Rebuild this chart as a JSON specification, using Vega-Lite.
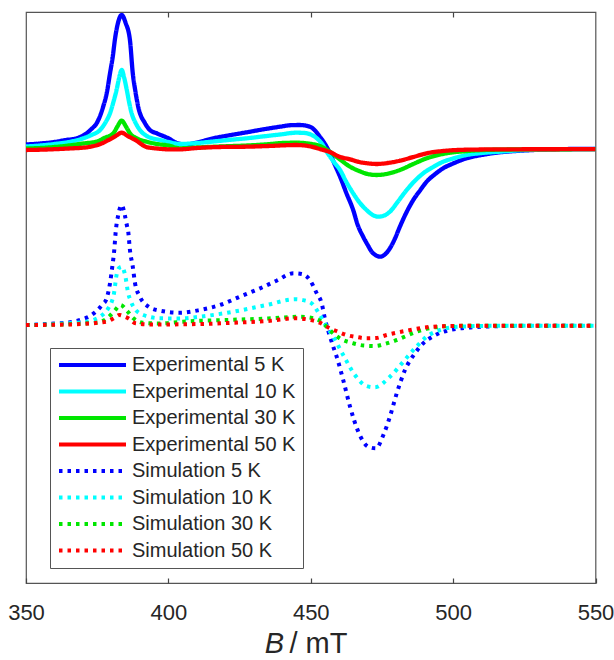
{
  "$schema": "https://vega.github.io/schema/vega-lite/v6.json",
  "width": 569.5,
  "height": 571,
  "autosize": {"type": "none"},
  "padding": {"left": 26, "top": 12, "right": 18.5, "bottom": 77},
  "background": "white",
  "config": {
    "view": {"stroke": "#555555", "strokeWidth": 1.2},
    "font": "Liberation Sans"
  },
  "datasets": {
    "exp": [
      {"s":"Experimental 5 K","B":350,"I":438.5},{"s":"Experimental 5 K","B":355,"I":439.5},{"s":"Experimental 5 K","B":360,"I":441},{"s":"Experimental 5 K","B":364,"I":443},{"s":"Experimental 5 K","B":367.8,"I":444.7},{"s":"Experimental 5 K","B":371.3,"I":449.7},{"s":"Experimental 5 K","B":373,"I":454},{"s":"Experimental 5 K","B":374.8,"I":459.7},{"s":"Experimental 5 K","B":377.1,"I":476.3},{"s":"Experimental 5 K","B":378.5,"I":492},{"s":"Experimental 5 K","B":379.5,"I":509.7},{"s":"Experimental 5 K","B":380.5,"I":527},{"s":"Experimental 5 K","B":381.2,"I":543},{"s":"Experimental 5 K","B":382.3,"I":560},{"s":"Experimental 5 K","B":383.6,"I":568},{"s":"Experimental 5 K","B":385,"I":560},{"s":"Experimental 5 K","B":386.5,"I":543},{"s":"Experimental 5 K","B":387.5,"I":509.7},{"s":"Experimental 5 K","B":388.4,"I":492},{"s":"Experimental 5 K","B":389.4,"I":476.3},{"s":"Experimental 5 K","B":391.8,"I":459.7},{"s":"Experimental 5 K","B":393.5,"I":453},{"s":"Experimental 5 K","B":395.9,"I":449.7},{"s":"Experimental 5 K","B":400,"I":444.7},{"s":"Experimental 5 K","B":403,"I":440},{"s":"Experimental 5 K","B":406,"I":438.5},{"s":"Experimental 5 K","B":410,"I":440.5},{"s":"Experimental 5 K","B":415.8,"I":444.7},{"s":"Experimental 5 K","B":421,"I":447.5},{"s":"Experimental 5 K","B":427.5,"I":450.7},{"s":"Experimental 5 K","B":433,"I":453.5},{"s":"Experimental 5 K","B":439.2,"I":456.3},{"s":"Experimental 5 K","B":443,"I":457.8},{"s":"Experimental 5 K","B":446,"I":458},{"s":"Experimental 5 K","B":449.7,"I":456.3},{"s":"Experimental 5 K","B":451.5,"I":452.5},{"s":"Experimental 5 K","B":453.2,"I":446.3},{"s":"Experimental 5 K","B":455,"I":439},{"s":"Experimental 5 K","B":456.7,"I":430},{"s":"Experimental 5 K","B":458.5,"I":418},{"s":"Experimental 5 K","B":460.3,"I":406.3},{"s":"Experimental 5 K","B":462.5,"I":390},{"s":"Experimental 5 K","B":464.9,"I":373},{"s":"Experimental 5 K","B":466.5,"I":358},{"s":"Experimental 5 K","B":468.4,"I":346.3},{"s":"Experimental 5 K","B":470,"I":338},{"s":"Experimental 5 K","B":471.4,"I":331.3},{"s":"Experimental 5 K","B":473,"I":327.5},{"s":"Experimental 5 K","B":474.3,"I":326.3},{"s":"Experimental 5 K","B":475.8,"I":328},{"s":"Experimental 5 K","B":477.8,"I":334.7},{"s":"Experimental 5 K","B":479.5,"I":344},{"s":"Experimental 5 K","B":481.3,"I":356.3},{"s":"Experimental 5 K","B":483.5,"I":370},{"s":"Experimental 5 K","B":486,"I":383},{"s":"Experimental 5 K","B":488.5,"I":393},{"s":"Experimental 5 K","B":490.7,"I":401.3},{"s":"Experimental 5 K","B":493.5,"I":408.5},{"s":"Experimental 5 K","B":496.5,"I":414.7},{"s":"Experimental 5 K","B":500,"I":419.5},{"s":"Experimental 5 K","B":504.7,"I":424.7},{"s":"Experimental 5 K","B":510,"I":428},{"s":"Experimental 5 K","B":516.4,"I":430.7},{"s":"Experimental 5 K","B":522,"I":432},{"s":"Experimental 5 K","B":528.1,"I":433},{"s":"Experimental 5 K","B":535,"I":433.7},{"s":"Experimental 5 K","B":542,"I":434},{"s":"Experimental 5 K","B":550,"I":434},
      {"s":"Experimental 10 K","B":350,"I":436.5},{"s":"Experimental 10 K","B":355,"I":437.5},{"s":"Experimental 10 K","B":360,"I":439},{"s":"Experimental 10 K","B":365,"I":441},{"s":"Experimental 10 K","B":370.1,"I":444.7},{"s":"Experimental 10 K","B":373,"I":448},{"s":"Experimental 10 K","B":376,"I":453},{"s":"Experimental 10 K","B":378,"I":461},{"s":"Experimental 10 K","B":379.5,"I":469.7},{"s":"Experimental 10 K","B":380.7,"I":481},{"s":"Experimental 10 K","B":381.8,"I":493},{"s":"Experimental 10 K","B":382.7,"I":505},{"s":"Experimental 10 K","B":383.6,"I":513},{"s":"Experimental 10 K","B":384.5,"I":505},{"s":"Experimental 10 K","B":385.4,"I":493},{"s":"Experimental 10 K","B":386.2,"I":481},{"s":"Experimental 10 K","B":387.1,"I":469.7},{"s":"Experimental 10 K","B":388.5,"I":460},{"s":"Experimental 10 K","B":390,"I":453},{"s":"Experimental 10 K","B":392.4,"I":447},{"s":"Experimental 10 K","B":394.5,"I":444.5},{"s":"Experimental 10 K","B":397.1,"I":443},{"s":"Experimental 10 K","B":400,"I":441},{"s":"Experimental 10 K","B":404,"I":439},{"s":"Experimental 10 K","B":408,"I":439.5},{"s":"Experimental 10 K","B":415.8,"I":441.5},{"s":"Experimental 10 K","B":421,"I":443},{"s":"Experimental 10 K","B":427.5,"I":444.7},{"s":"Experimental 10 K","B":433,"I":446.5},{"s":"Experimental 10 K","B":439.2,"I":448.5},{"s":"Experimental 10 K","B":445,"I":450.3},{"s":"Experimental 10 K","B":448,"I":450},{"s":"Experimental 10 K","B":450,"I":448.5},{"s":"Experimental 10 K","B":452,"I":445},{"s":"Experimental 10 K","B":454,"I":439},{"s":"Experimental 10 K","B":455.6,"I":431.3},{"s":"Experimental 10 K","B":458,"I":421.5},{"s":"Experimental 10 K","B":460.3,"I":413},{"s":"Experimental 10 K","B":462.5,"I":401},{"s":"Experimental 10 K","B":464.9,"I":389.7},{"s":"Experimental 10 K","B":467,"I":381},{"s":"Experimental 10 K","B":469.6,"I":373},{"s":"Experimental 10 K","B":471.5,"I":368.5},{"s":"Experimental 10 K","B":473.7,"I":366.3},{"s":"Experimental 10 K","B":475.8,"I":367.5},{"s":"Experimental 10 K","B":477.8,"I":371.3},{"s":"Experimental 10 K","B":480.5,"I":381},{"s":"Experimental 10 K","B":483.7,"I":393},{"s":"Experimental 10 K","B":486.5,"I":402},{"s":"Experimental 10 K","B":489.5,"I":409.7},{"s":"Experimental 10 K","B":493,"I":416},{"s":"Experimental 10 K","B":496.5,"I":421.3},{"s":"Experimental 10 K","B":500,"I":424.5},{"s":"Experimental 10 K","B":504.7,"I":428},{"s":"Experimental 10 K","B":510,"I":430},{"s":"Experimental 10 K","B":516.4,"I":431.3},{"s":"Experimental 10 K","B":522,"I":432.5},{"s":"Experimental 10 K","B":530,"I":433.3},{"s":"Experimental 10 K","B":540,"I":433.7},{"s":"Experimental 10 K","B":550,"I":434},
      {"s":"Experimental 30 K","B":350,"I":434.5},{"s":"Experimental 30 K","B":355,"I":435},{"s":"Experimental 30 K","B":360,"I":436},{"s":"Experimental 30 K","B":365,"I":437.5},{"s":"Experimental 30 K","B":370,"I":439.5},{"s":"Experimental 30 K","B":374.8,"I":441.3},{"s":"Experimental 30 K","B":377.5,"I":445},{"s":"Experimental 30 K","B":380.7,"I":449.7},{"s":"Experimental 30 K","B":382,"I":456},{"s":"Experimental 30 K","B":383.6,"I":462.3},{"s":"Experimental 30 K","B":385.2,"I":456},{"s":"Experimental 30 K","B":386.5,"I":449.7},{"s":"Experimental 30 K","B":389,"I":444.5},{"s":"Experimental 30 K","B":392.4,"I":441.3},{"s":"Experimental 30 K","B":396,"I":439},{"s":"Experimental 30 K","B":400,"I":437.5},{"s":"Experimental 30 K","B":404.1,"I":434.7},{"s":"Experimental 30 K","B":410,"I":435.5},{"s":"Experimental 30 K","B":418,"I":436.5},{"s":"Experimental 30 K","B":427.5,"I":437.5},{"s":"Experimental 30 K","B":435,"I":438.8},{"s":"Experimental 30 K","B":440,"I":440},{"s":"Experimental 30 K","B":445,"I":440.3},{"s":"Experimental 30 K","B":449,"I":439.5},{"s":"Experimental 30 K","B":453.2,"I":437},{"s":"Experimental 30 K","B":456.7,"I":431.3},{"s":"Experimental 30 K","B":460.3,"I":423.5},{"s":"Experimental 30 K","B":463.8,"I":416.3},{"s":"Experimental 30 K","B":467,"I":412},{"s":"Experimental 30 K","B":470,"I":409},{"s":"Experimental 30 K","B":473.1,"I":408},{"s":"Experimental 30 K","B":476.5,"I":409},{"s":"Experimental 30 K","B":481.3,"I":413},{"s":"Experimental 30 K","B":486,"I":419},{"s":"Experimental 30 K","B":490.7,"I":424.7},{"s":"Experimental 30 K","B":497.6,"I":429.7},{"s":"Experimental 30 K","B":505,"I":432},{"s":"Experimental 30 K","B":515,"I":433.3},{"s":"Experimental 30 K","B":530,"I":433.7},{"s":"Experimental 30 K","B":550,"I":433.8},
      {"s":"Experimental 50 K","B":350,"I":433},{"s":"Experimental 50 K","B":355,"I":433.3},{"s":"Experimental 50 K","B":360,"I":433.8},{"s":"Experimental 50 K","B":365,"I":434.5},{"s":"Experimental 50 K","B":371.3,"I":435.7},{"s":"Experimental 50 K","B":376.7,"I":439.7},{"s":"Experimental 50 K","B":379,"I":443},{"s":"Experimental 50 K","B":381.5,"I":447},{"s":"Experimental 50 K","B":383.6,"I":450.3},{"s":"Experimental 50 K","B":385.7,"I":447},{"s":"Experimental 50 K","B":388.4,"I":443},{"s":"Experimental 50 K","B":392.3,"I":436},{"s":"Experimental 50 K","B":396,"I":434.5},{"s":"Experimental 50 K","B":400,"I":433.7},{"s":"Experimental 50 K","B":404.1,"I":433.7},{"s":"Experimental 50 K","B":410,"I":435},{"s":"Experimental 50 K","B":418,"I":436},{"s":"Experimental 50 K","B":427.5,"I":436.3},{"s":"Experimental 50 K","B":435,"I":437},{"s":"Experimental 50 K","B":445,"I":438},{"s":"Experimental 50 K","B":450,"I":436.5},{"s":"Experimental 50 K","B":453.2,"I":434},{"s":"Experimental 50 K","B":456.7,"I":431},{"s":"Experimental 50 K","B":460.3,"I":426},{"s":"Experimental 50 K","B":463.8,"I":423.7},{"s":"Experimental 50 K","B":467,"I":421},{"s":"Experimental 50 K","B":470,"I":419.7},{"s":"Experimental 50 K","B":473.1,"I":419},{"s":"Experimental 50 K","B":477,"I":420},{"s":"Experimental 50 K","B":481.3,"I":422.3},{"s":"Experimental 50 K","B":486,"I":426},{"s":"Experimental 50 K","B":490.7,"I":429.7},{"s":"Experimental 50 K","B":497.6,"I":432.3},{"s":"Experimental 50 K","B":505,"I":433.3},{"s":"Experimental 50 K","B":520,"I":433.7},{"s":"Experimental 50 K","B":550,"I":433.8}
    ],
    "sim": [
      {"s":"Simulation 5 K","B":350,"I":258},{"s":"Simulation 5 K","B":355,"I":258.5},{"s":"Simulation 5 K","B":360,"I":259.5},{"s":"Simulation 5 K","B":366.6,"I":261.3},{"s":"Simulation 5 K","B":370,"I":264},{"s":"Simulation 5 K","B":372.5,"I":267},{"s":"Simulation 5 K","B":375.4,"I":273.7},{"s":"Simulation 5 K","B":377,"I":279},{"s":"Simulation 5 K","B":378.1,"I":283},{"s":"Simulation 5 K","B":379.5,"I":299.7},{"s":"Simulation 5 K","B":380.3,"I":316.3},{"s":"Simulation 5 K","B":381,"I":333},{"s":"Simulation 5 K","B":381.5,"I":351.3},{"s":"Simulation 5 K","B":382.4,"I":368},{"s":"Simulation 5 K","B":383.6,"I":378},{"s":"Simulation 5 K","B":384.7,"I":368},{"s":"Simulation 5 K","B":385.4,"I":358},{"s":"Simulation 5 K","B":385.9,"I":351.3},{"s":"Simulation 5 K","B":386.5,"I":333},{"s":"Simulation 5 K","B":387.5,"I":316.3},{"s":"Simulation 5 K","B":388.3,"I":299.7},{"s":"Simulation 5 K","B":390,"I":286.3},{"s":"Simulation 5 K","B":393,"I":276.3},{"s":"Simulation 5 K","B":397.1,"I":272.3},{"s":"Simulation 5 K","B":404.1,"I":270.3},{"s":"Simulation 5 K","B":411.1,"I":273},{"s":"Simulation 5 K","B":418.1,"I":278},{"s":"Simulation 5 K","B":425.1,"I":286.3},{"s":"Simulation 5 K","B":432.2,"I":294.7},{"s":"Simulation 5 K","B":438,"I":302.3},{"s":"Simulation 5 K","B":443.9,"I":309.7},{"s":"Simulation 5 K","B":446.8,"I":309},{"s":"Simulation 5 K","B":449.7,"I":303},{"s":"Simulation 5 K","B":452.1,"I":289.7},{"s":"Simulation 5 K","B":453.8,"I":280},{"s":"Simulation 5 K","B":455,"I":264},{"s":"Simulation 5 K","B":456.4,"I":249.7},{"s":"Simulation 5 K","B":457.9,"I":236.3},{"s":"Simulation 5 K","B":459.1,"I":226.3},{"s":"Simulation 5 K","B":461.4,"I":203},{"s":"Simulation 5 K","B":463.8,"I":176.3},{"s":"Simulation 5 K","B":466.7,"I":151.3},{"s":"Simulation 5 K","B":470.2,"I":136.3},{"s":"Simulation 5 K","B":472.9,"I":134.7},{"s":"Simulation 5 K","B":475.5,"I":148},{"s":"Simulation 5 K","B":477.8,"I":166.3},{"s":"Simulation 5 K","B":480.2,"I":189.7},{"s":"Simulation 5 K","B":483.1,"I":213},{"s":"Simulation 5 K","B":486.6,"I":229.7},{"s":"Simulation 5 K","B":489.5,"I":239.7},{"s":"Simulation 5 K","B":493.1,"I":247},{"s":"Simulation 5 K","B":498.9,"I":253},{"s":"Simulation 5 K","B":507.1,"I":255.7},{"s":"Simulation 5 K","B":520,"I":257},{"s":"Simulation 5 K","B":535,"I":257.3},{"s":"Simulation 5 K","B":550,"I":257.3},
      {"s":"Simulation 10 K","B":350,"I":258},{"s":"Simulation 10 K","B":360,"I":258.8},{"s":"Simulation 10 K","B":366,"I":260},{"s":"Simulation 10 K","B":371.3,"I":261.3},{"s":"Simulation 10 K","B":374,"I":263.5},{"s":"Simulation 10 K","B":376,"I":266.3},{"s":"Simulation 10 K","B":378.9,"I":274.7},{"s":"Simulation 10 K","B":380.2,"I":282},{"s":"Simulation 10 K","B":380.9,"I":289.7},{"s":"Simulation 10 K","B":381.8,"I":308},{"s":"Simulation 10 K","B":382.7,"I":315},{"s":"Simulation 10 K","B":383.6,"I":316.3},{"s":"Simulation 10 K","B":384.8,"I":308},{"s":"Simulation 10 K","B":385.9,"I":289.7},{"s":"Simulation 10 K","B":386.8,"I":282},{"s":"Simulation 10 K","B":387.7,"I":276.3},{"s":"Simulation 10 K","B":391.2,"I":268},{"s":"Simulation 10 K","B":397.1,"I":264.7},{"s":"Simulation 10 K","B":404,"I":264.5},{"s":"Simulation 10 K","B":411.1,"I":266.3},{"s":"Simulation 10 K","B":422.8,"I":271.3},{"s":"Simulation 10 K","B":434.5,"I":278},{"s":"Simulation 10 K","B":444.5,"I":283.7},{"s":"Simulation 10 K","B":447,"I":283},{"s":"Simulation 10 K","B":450.3,"I":279.7},{"s":"Simulation 10 K","B":453.2,"I":268},{"s":"Simulation 10 K","B":455.6,"I":256.3},{"s":"Simulation 10 K","B":457.9,"I":246.3},{"s":"Simulation 10 K","B":461.4,"I":228},{"s":"Simulation 10 K","B":465.5,"I":208},{"s":"Simulation 10 K","B":469.6,"I":197},{"s":"Simulation 10 K","B":472.5,"I":195.7},{"s":"Simulation 10 K","B":477.8,"I":206.3},{"s":"Simulation 10 K","B":482.5,"I":221.3},{"s":"Simulation 10 K","B":486.6,"I":234.7},{"s":"Simulation 10 K","B":490.7,"I":246.3},{"s":"Simulation 10 K","B":495.4,"I":253},{"s":"Simulation 10 K","B":502,"I":256.3},{"s":"Simulation 10 K","B":515,"I":257.2},{"s":"Simulation 10 K","B":550,"I":257.3},
      {"s":"Simulation 30 K","B":350,"I":258},{"s":"Simulation 30 K","B":365,"I":258.8},{"s":"Simulation 30 K","B":374.8,"I":260.3},{"s":"Simulation 30 K","B":378.9,"I":265.7},{"s":"Simulation 30 K","B":381,"I":272},{"s":"Simulation 30 K","B":383.2,"I":278},{"s":"Simulation 30 K","B":385.5,"I":272},{"s":"Simulation 30 K","B":387.7,"I":264.7},{"s":"Simulation 30 K","B":391,"I":260.3},{"s":"Simulation 30 K","B":397,"I":259.5},{"s":"Simulation 30 K","B":405,"I":261.3},{"s":"Simulation 30 K","B":420,"I":263},{"s":"Simulation 30 K","B":435,"I":264.5},{"s":"Simulation 30 K","B":446.2,"I":266.3},{"s":"Simulation 30 K","B":450,"I":265.3},{"s":"Simulation 30 K","B":453.2,"I":262.3},{"s":"Simulation 30 K","B":456.7,"I":253},{"s":"Simulation 30 K","B":457.9,"I":249.7},{"s":"Simulation 30 K","B":460,"I":245},{"s":"Simulation 30 K","B":464.9,"I":239.7},{"s":"Simulation 30 K","B":468.5,"I":237.5},{"s":"Simulation 30 K","B":472.5,"I":237},{"s":"Simulation 30 K","B":476,"I":239},{"s":"Simulation 30 K","B":480.2,"I":243},{"s":"Simulation 30 K","B":487.2,"I":251.3},{"s":"Simulation 30 K","B":495.4,"I":256.3},{"s":"Simulation 30 K","B":505,"I":257.2},{"s":"Simulation 30 K","B":550,"I":257.3},
      {"s":"Simulation 50 K","B":350,"I":258},{"s":"Simulation 50 K","B":365,"I":258.5},{"s":"Simulation 50 K","B":376,"I":260.5},{"s":"Simulation 50 K","B":379,"I":262},{"s":"Simulation 50 K","B":381.5,"I":266},{"s":"Simulation 50 K","B":382.8,"I":268},{"s":"Simulation 50 K","B":384.5,"I":266.5},{"s":"Simulation 50 K","B":385.9,"I":264.7},{"s":"Simulation 50 K","B":388.5,"I":259.7},{"s":"Simulation 50 K","B":395,"I":258.5},{"s":"Simulation 50 K","B":411.1,"I":259},{"s":"Simulation 50 K","B":425,"I":260.5},{"s":"Simulation 50 K","B":435,"I":262},{"s":"Simulation 50 K","B":444.5,"I":264.7},{"s":"Simulation 50 K","B":449,"I":263.5},{"s":"Simulation 50 K","B":453.2,"I":260.3},{"s":"Simulation 50 K","B":456.7,"I":254.7},{"s":"Simulation 50 K","B":459,"I":252},{"s":"Simulation 50 K","B":462.6,"I":248},{"s":"Simulation 50 K","B":466,"I":246},{"s":"Simulation 50 K","B":469.6,"I":244.7},{"s":"Simulation 50 K","B":473,"I":245},{"s":"Simulation 50 K","B":476.6,"I":248},{"s":"Simulation 50 K","B":483.7,"I":252.3},{"s":"Simulation 50 K","B":490.7,"I":255.7},{"s":"Simulation 50 K","B":498,"I":257},{"s":"Simulation 50 K","B":510,"I":257.3},{"s":"Simulation 50 K","B":550,"I":257.3}
    ]
  },
  "layer": [
    {
      "data": {"name": "exp"},
      "mark": {"type": "line", "strokeWidth": 4.3, "interpolate": "monotone"},
      "encoding": {
        "x": {"field": "B", "type": "quantitative", "scale": {"domain": [350, 550], "nice": false, "zero": false},
          "axis": {"orient": "bottom", "values": [350, 400, 450, 500, 550], "grid": false, "domain": false, "tickSize": -5, "tickColor": "#444444", "tickWidth": 1.2, "labelFontSize": 22, "labelColor": "#262626", "labelPadding": 24, "labelFlush": false, "title": "/ mT", "titleFontSize": 29, "titleFontWeight": "normal", "titleColor": "#262626", "titleAlign": "left", "titleX": 263, "titleY": 69, "titleBaseline": "alphabetic"}},
        "y": {"field": "I", "type": "quantitative", "scale": {"domain": [0, 571], "nice": false, "zero": false}, "axis": null},
        "color": {"field": "s", "type": "nominal",
          "scale": {"domain": ["Experimental 5 K", "Experimental 10 K", "Experimental 30 K", "Experimental 50 K", "Simulation 5 K", "Simulation 10 K", "Simulation 30 K", "Simulation 50 K"],
                    "range": ["#0000ff", "#00ffff", "#00e600", "#ff0000", "#0000ff", "#00ffff", "#00e600", "#ff0000"]},
          "legend": {"title": null, "orient": "none", "legendX": 24, "legendY": 336, "symbolType": "stroke", "symbolSize": 4489, "symbolStrokeWidth": 4, "clipHeight": 20, "rowPadding": 6.5, "padding": 7, "labelFontSize": 20, "labelColor": "#262626", "labelLimit": 0, "labelOffset": 4, "strokeColor": "#555555", "fillColor": "white"}},
        "strokeDash": {"field": "s", "type": "nominal",
          "scale": {"domain": ["Experimental 5 K", "Experimental 10 K", "Experimental 30 K", "Experimental 50 K", "Simulation 5 K", "Simulation 10 K", "Simulation 30 K", "Simulation 50 K"],
                    "range": [[1, 0], [1, 0], [1, 0], [1, 0], [3.5, 5], [3.5, 5], [3.5, 5], [3.5, 5]]},
          "legend": {"title": null, "orient": "none", "legendX": 24, "legendY": 336, "symbolType": "stroke", "symbolSize": 4489, "symbolStrokeWidth": 4, "clipHeight": 20, "rowPadding": 6.5, "padding": 7, "labelFontSize": 20, "labelColor": "#262626", "labelLimit": 0, "labelOffset": 4, "strokeColor": "#555555", "fillColor": "white"}}
      }
    },
    {
      "data": {"name": "sim"},
      "mark": {"type": "line", "strokeWidth": 4, "interpolate": "monotone"},
      "encoding": {
        "x": {"field": "B", "type": "quantitative",
          "axis": {"orient": "top", "values": [400, 450, 500], "grid": false, "domain": false, "labels": false, "tickSize": -5, "tickColor": "#444444", "tickWidth": 1.2, "title": "B", "titleFontStyle": "italic", "titleFontSize": 29, "titleFontWeight": "normal", "titleColor": "#262626", "titleAlign": "center", "titleX": 248, "titleY": 640, "titleBaseline": "alphabetic"}},
        "y": {"field": "I", "type": "quantitative", "axis": null},
        "color": {"field": "s", "type": "nominal"},
        "strokeDash": {"field": "s", "type": "nominal"}
      }
    }
  ],
  "resolve": {"axis": {"x": "independent"}}
}
